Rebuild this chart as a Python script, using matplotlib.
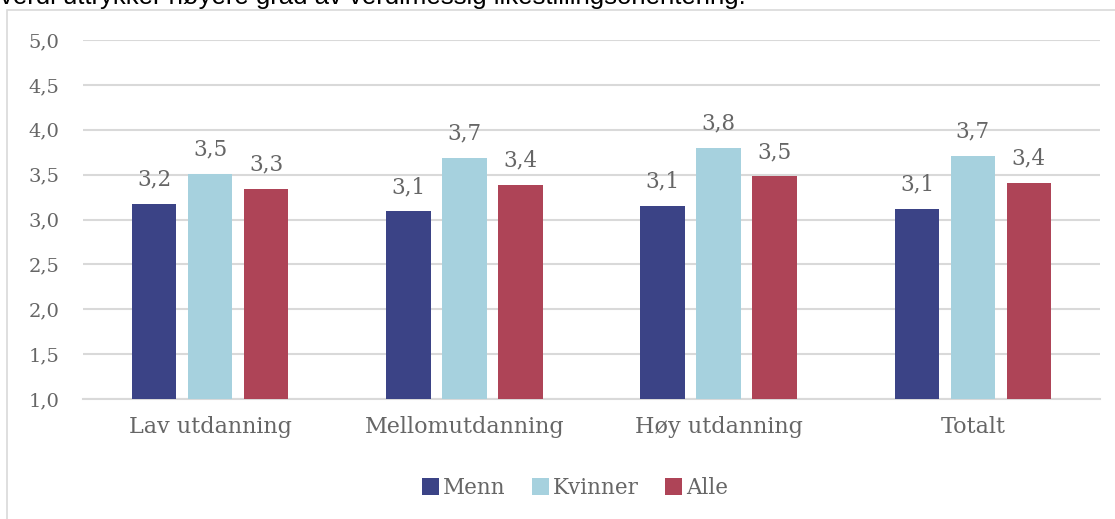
import matplotlib.pyplot as plt
import numpy as np
from matplotlib.patches import Rectangle

kategorier = ["Lav utdanning", "Mellomutdanning", "Høy utdanning", "Totalt"]
menn = [3.17, 3.09, 3.15, 3.12]
kvinner = [3.51, 3.69, 3.80, 3.71]
alle = [3.34, 3.38, 3.48, 3.41]
serier = ["Menn", "Kvinner", "Alle"]
farger = ["#3b4386", "#a6d1de", "#ae4457"]
yticks = [1.0, 1.5, 2.0, 2.5, 3.0, 3.5, 4.0, 4.5, 5.0]

plt.rcParams['font.family'] = ['DejaVu Serif']
grå = "#666666"

fig = plt.figure(figsize=(11.15, 5.19), dpi=100)
W, H = 1115, 519
ax = fig.add_axes([83 / W, 1 - 399 / H, (1100 - 83) / W, (399 - 40) / H])

# ramme rundt figuren (delvis utenfor bildet)
fig.patches.append(Rectangle((7 / W, -0.1), 1.2, 1 - 10 / H + 0.1, transform=fig.transFigure,
                             fill=False, edgecolor="#d9d9d9", lw=1.2))
fig.text(0.0, 1 - 4 / H, "verdi uttrykker høyere grad av verdimessig likestillingsorientering.",
         fontsize=18.5, family="Liberation Sans", color="black", va="baseline")

x = np.arange(len(kategorier))
bredde = 0.175
steg = 0.22
for i, (navn, verdier) in enumerate(zip(serier, [menn, kvinner, alle])):
    pos = x + (i - 1) * steg
    ax.bar(pos, np.array(verdier) - 1, bottom=1, width=bredde, color=farger[i], label=navn, zorder=3)
    for p, v in zip(pos, verdier):
        ax.text(p, v + 0.15, f"{v:.1f}".replace(".", ","), ha="center", va="bottom",
                fontsize=15.5, color=grå)

ax.set_ylim(1, 5)
ax.set_xlim(-0.5, 3.5)
ax.set_yticks(yticks)
ax.set_yticklabels([f"{t:.1f}".replace(".", ",") for t in yticks])
ax.set_xticks(x)
ax.set_xticklabels(kategorier)
ax.tick_params(length=0, labelsize=14, labelcolor=grå)
ax.tick_params(axis="x", pad=12, labelsize=16)
ax.tick_params(axis="y", pad=17)
ax.grid(axis="y", color="#d9d9d9", lw=1.5, zorder=0)
for s in ["top", "right", "left"]:
    ax.spines[s].set_visible(False)
ax.spines["bottom"].set_color("#d9d9d9")
ax.spines["bottom"].set_linewidth(1.5)

leg = fig.legend(loc="center", bbox_to_anchor=(575 / W, 1 - 488 / H), ncol=3, frameon=False,
                 fontsize=15.5, handlelength=0.8, handleheight=0.8, handletextpad=0.2,
                 columnspacing=1.2, labelcolor=grå)

fig.savefig("out.png", dpi=100)
